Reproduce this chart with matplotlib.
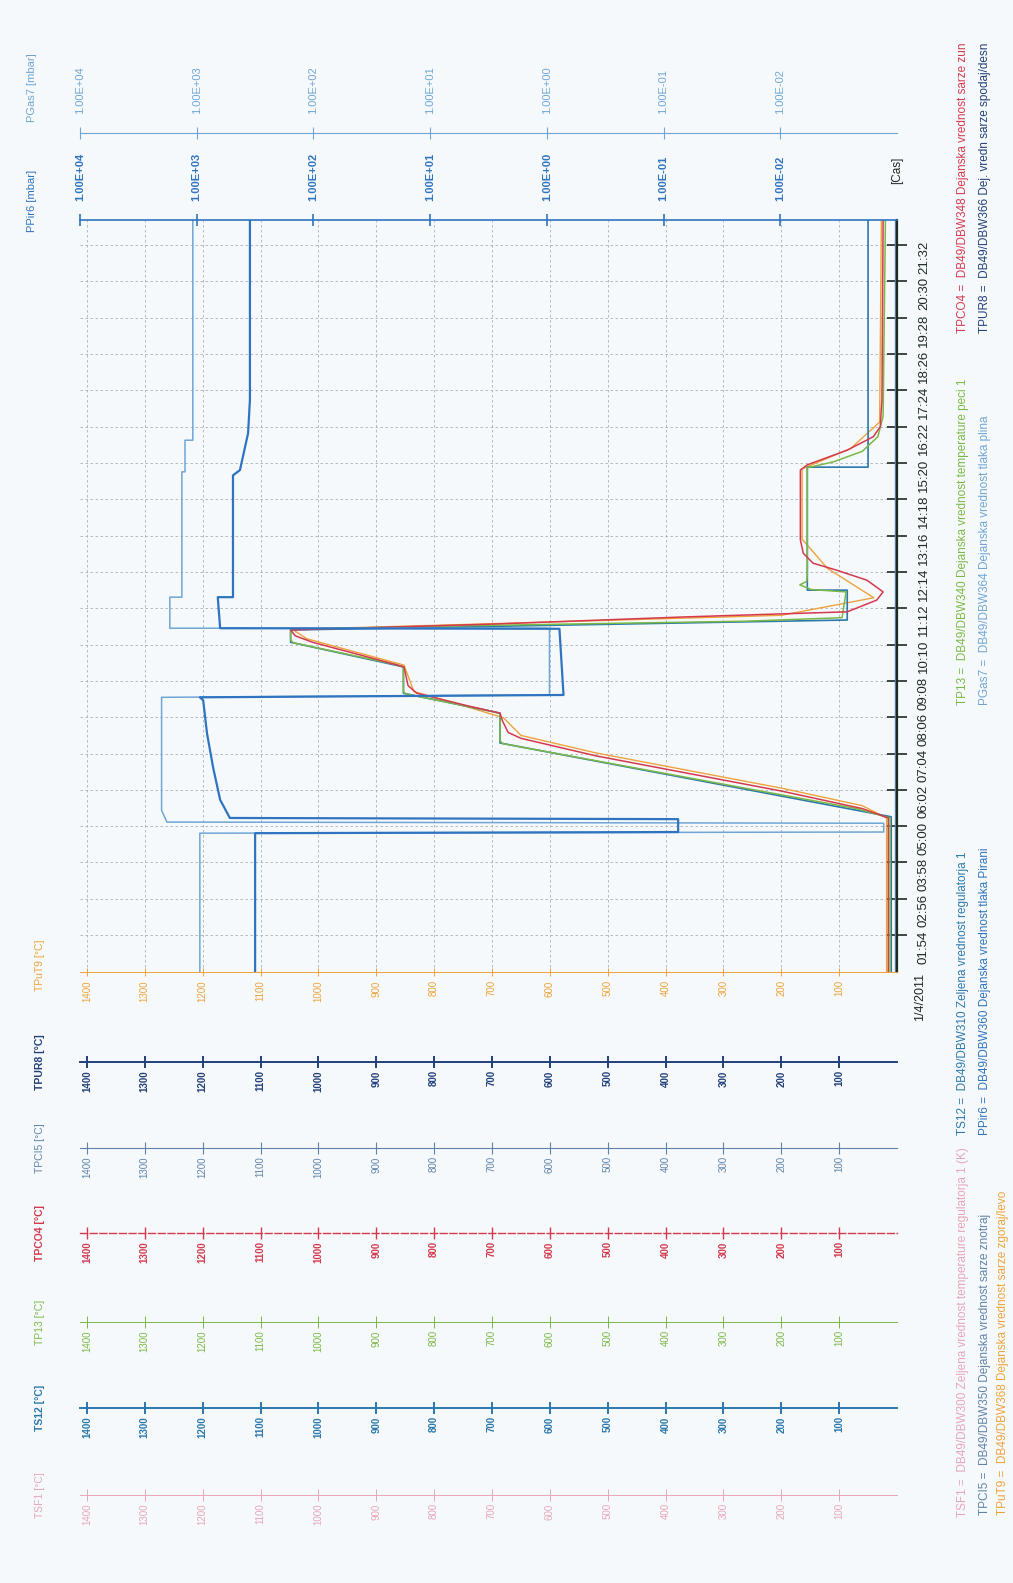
import matplotlib
matplotlib.use("Agg")
import matplotlib.pyplot as plt
from matplotlib.ticker import NullLocator
import numpy as np

plt.rcParams["font.family"] = ["Liberation Sans", "DejaVu Sans"]

# ---------------- data ----------------
time_ticks = ["01:54", "02:56", "03:58", "05:00", "06:02", "07:04", "08:06", "09:08",
              "10:10", "11:12", "12:14", "13:16", "14:18", "15:20", "16:22", "17:24",
              "18:26", "19:28", "20:30", "21:32"]
temp_ticks = [100, 200, 300, 400, 500, 600, 700, 800, 900, 1000, 1100, 1200, 1300, 1400]
pressure_ticks = [1e4, 1e3, 1e2, 1e1, 1e0, 1e-1, 1e-2]

ts12_time = ["00:51", "05:16", "07:22", "08:13", "08:47", "09:32", "10:14", "10:35",
             "10:52", "11:43", "11:43", "15:13", "15:13", "22:15"]
ts12_temp = [10, 10, 686, 686, 853, 853, 1048, 1048, 86, 86, 155, 155, 50, 50]

tp13_time = ["00:51", "05:14", "05:30", "07:21", "07:26", "08:12", "08:16", "08:46", "08:50",
             "09:31", "09:36", "10:13", "10:18", "10:36", "10:42", "10:50", "10:56", "11:40",
             "11:44", "11:52", "11:58", "12:10", "15:12", "15:22", "15:40", "16:05", "16:40",
             "22:15"]
tp13_temp = [12, 12, 70, 682, 686, 686, 700, 850, 853, 853, 866, 1043, 1048, 1048, 760, 260,
             95, 88, 148, 168, 156, 155, 155, 110, 60, 33, 24, 20]

tpco4_time = ["00:51", "05:14", "05:30", "06:00", "07:00", "07:30", "07:40", "08:00", "08:13",
              "08:25", "08:47", "09:00", "09:32", "09:45", "10:14", "10:25", "10:35", "10:45",
              "10:57", "11:06", "11:26", "11:40", "12:00", "12:17", "12:29", "12:46", "13:09",
              "15:08", "15:17", "15:42", "16:05", "16:22", "17:08", "22:15"]
tpco4_temp = [15, 15, 60, 200, 520, 650, 672, 682, 686, 740, 830, 845, 852, 900, 1010, 1040,
              1048, 700, 375, 86, 35, 24, 52, 104, 145, 162, 167, 167, 155, 86, 41, 29, 26, 24]

tput9_time = ["00:51", "05:14", "05:35", "06:05", "07:05", "07:35", "08:05", "08:20", "08:50",
              "09:35", "10:20", "10:36", "10:46", "11:00", "11:30", "12:20", "13:10", "15:10",
              "15:45", "16:30", "22:15"]
tput9_temp = [18, 18, 60, 200, 520, 650, 680, 730, 835, 852, 1020, 1045, 690, 200, 40, 120,
              164, 164, 80, 30, 27]

tpci5_time = ["00:51", "22:15"]
tpci5_temp = [4, 4]
tpur8_time = ["00:51", "22:15"]
tpur8_temp = [2, 2]
tsf1_time = ["00:51", "22:15"]
tsf1_temp = [0, 0]

ppir6_time = ["00:51", "04:48", "04:50", "05:12", "05:14", "05:45", "06:41", "07:39", "08:35",
              "08:40", "08:44", "10:37", "10:38", "11:31", "11:31", "14:59", "15:08", "16:11",
              "17:08", "22:15"]
ppir6_mbar = [316, 316, 0.075, 0.075, 520, 630, 725, 817, 880, 940, 0.72, 0.78, 630, 660, 489,
              489, 426, 363, 350, 350]

pgas7_time = ["00:51", "04:48", "04:50", "05:05", "05:07", "05:27", "08:40", "08:44", "10:38",
              "10:38", "11:31", "11:31", "15:05", "15:05", "15:59", "15:59", "22:15"]
pgas7_mbar = [940, 940, 1.3e-3, 1.3e-3, 1800, 2000, 2000, 0.95, 0.95, 1700, 1700, 1340, 1340,
              1260, 1260, 1080, 1080]


def to_minutes(labels):
    return np.array([int(s[:2]) * 60 + int(s[3:]) for s in labels], dtype=float)


# ---------------- colours ----------------
C_TSF1 = "#e8a6b8"
C_TS12 = "#2b78ad"
C_TP13 = "#7bb946"
C_TPCO4 = "#d43a4e"
C_TPCI5 = "#5f84ab"
C_TPUR8 = "#22407a"
C_TPUT9 = "#eea33a"
C_PPIR6 = "#2f74c0"
C_PGAS7 = "#6fa6d6"
C_TIME = "#1d2a22"

# ---------------- layout (pixels of the 1013x1583 page) ----------------
W, H = 1013, 1583
LEFT, RIGHT, TOP, BOTTOM = 80, 897, 220, 972
T_MAX = 1412
T_START, T_END = 51, 1335

fig = plt.figure(figsize=(W / 100, H / 100), dpi=100)
fig.patch.set_facecolor("#f6f9fb")


def fx(px):
    return px / W


def fy(py):
    return 1 - py / H


ax = fig.add_axes([fx(LEFT), fy(BOTTOM), (RIGHT - LEFT) / W, (BOTTOM - TOP) / H])
ax.set_facecolor("none")
plot_h = BOTTOM - TOP


def temp_axis(y_px, color, bold, lw, dashed=False):
    a = ax.twiny()
    a.set_xlim(T_MAX, 0)
    a.xaxis.set_ticks_position("bottom")
    a.spines["bottom"].set_position(("axes", -(y_px - BOTTOM) / plot_h))
    for s in ("top", "left", "right"):
        a.spines[s].set_visible(False)
    a.spines["bottom"].set_color(color)
    a.spines["bottom"].set_linewidth(lw)
    if dashed:
        a.spines["bottom"].set_linestyle((0, (5, 2)))
    a.set_xticks(temp_ticks)
    a.set_xticklabels([str(v) for v in temp_ticks], rotation=90,
                      fontweight="bold" if bold else "normal")
    a.tick_params(axis="x", colors=color, direction="inout", length=8, width=lw,
                  labelsize=7, pad=2)
    a.patch.set_visible(False)
    return a


def press_axis(offset, color, bold, lw):
    a = ax.twiny()
    a.set_xscale("log")
    a.set_xlim(1e4, 1e-3)
    a.xaxis.set_ticks_position("top")
    a.spines["top"].set_position(("axes", offset))
    for s in ("bottom", "left", "right"):
        a.spines[s].set_visible(False)
    a.spines["top"].set_color(color)
    a.spines["top"].set_linewidth(lw)
    a.set_xticks(pressure_ticks)
    a.xaxis.set_minor_locator(NullLocator())
    a.set_xticklabels([f"{v:.2E}" for v in pressure_ticks], rotation=90,
                      fontweight="bold" if bold else "normal")
    a.tick_params(axis="x", colors=color, direction="inout", length=9, width=lw,
                  labelsize=8, pad=9)
    a.patch.set_visible(False)
    return a


# temperature scales below the chart
temp_scales = [
    (1062, C_TPUR8, True, 1.4, False, "TPUR8 [°C]"),
    (1148, C_TPCI5, False, 0.8, False, "TPCI5 [°C]"),
    (1233, C_TPCO4, True, 1.0, True, "TPCO4 [°C]"),
    (1322, C_TP13, False, 0.7, False, "TP13 [°C]"),
    (1408, C_TS12, True, 1.4, False, "TS12 [°C]"),
    (1495, C_TSF1, False, 0.7, False, "TSF1 [°C]"),
]
for y_px, col, bold, lw, dashed, title in temp_scales:
    temp_axis(y_px, col, bold, lw, dashed)
    fig.text(fx(40), fy(y_px), title, rotation=90, color=col, fontsize=7.5,
             fontweight="bold" if bold else "normal", ha="center", va="center")

# pressure scales above the chart
axp = press_axis(1.0, C_PPIR6, True, 1.2)
axg = press_axis(1 + 87 / plot_h, C_PGAS7, False, 0.8)
fig.text(fx(32), fy(201), "PPir6 [mbar]", rotation=90, color=C_PPIR6, fontsize=8,
         ha="center", va="center")
fig.text(fx(32), fy(88), "PGas7 [mbar]", rotation=90, color=C_PGAS7, fontsize=8,
         ha="center", va="center")

# main axis: temperature (TPuT9 scale at bottom) vs time (right edge)
ax.set_xlim(T_MAX, 0)
ax.set_ylim(T_START, T_END)
ax.set_xticks(temp_ticks)
ax.set_xticklabels([str(v) for v in temp_ticks], rotation=90)
ax.xaxis.set_ticks_position("bottom")
ax.tick_params(axis="x", colors=C_TPUT9, direction="inout", length=6, width=0.7,
               labelsize=7, pad=3)
tick_min = to_minutes(time_ticks)
ax.set_yticks(tick_min)
ax.set_yticklabels(time_ticks, rotation=90)
ax.yaxis.set_ticks_position("right")
ax.tick_params(axis="y", colors=C_TIME, direction="inout", length=14, width=1.2,
               labelsize=9.5, pad=8)
ax.spines["left"].set_visible(False)
ax.spines["top"].set_visible(False)
ax.spines["bottom"].set_color(C_TPUT9)
ax.spines["bottom"].set_linewidth(0.7)
ax.spines["right"].set_color(C_TIME)
ax.spines["right"].set_linewidth(1.6)
ax.grid(True, color="#a9b0b8", linestyle=(0, (3, 3)), linewidth=0.6)
fig.text(fx(40), fy(965), "TPuT9 [°C]", rotation=90, color=C_TPUT9, fontsize=7.5,
         ha="center", va="center")

# curves
series_t = [
    (tsf1_time, tsf1_temp, C_TSF1, 1.0),
    (tpur8_time, tpur8_temp, C_TPUR8, 1.4),
    (tpci5_time, tpci5_temp, C_TPCI5, 1.0),
    (tput9_time, tput9_temp, C_TPUT9, 1.0),
    (ts12_time, ts12_temp, C_TS12, 1.2),
    (tp13_time, tp13_temp, C_TP13, 1.1),
    (tpco4_time, tpco4_temp, C_TPCO4, 1.1),
]
for times, temps, col, lw in series_t:
    ax.plot(temps, to_minutes(times), color=col, linewidth=lw)

axp.plot(pgas7_mbar, to_minutes(pgas7_time), color=C_PGAS7, linewidth=1.1)
axp.plot(ppir6_mbar, to_minutes(ppir6_time), color=C_PPIR6, linewidth=1.6)

# labels round the time axis
fig.text(fx(897), fy(170), "[Cas]", rotation=90, color=C_TIME, fontsize=8.5,
         ha="center", va="center")
fig.text(fx(920), fy(997), "1/4/2011", rotation=90, color=C_TIME, fontsize=9,
         ha="center", va="center")

# legend lines along the right margin (text starts at the given y and runs upward)
legend = [
    (963, 1517, C_TSF1, "TSF1 =  DB49/DBW300 Zeljena vrednost temperature regulatorja 1 (K)"),
    (963, 1135, C_TS12, "TS12 =  DB49/DBW310 Zeljena vrednost regulatorja 1"),
    (963, 705, C_TP13, "TP13 =  DB49/DBW340 Dejanska vrednost temperature peci 1"),
    (963, 333, C_TPCO4, "TPCO4 =  DB49/DBW348 Dejanska vrednost sarze zun"),
    (985, 1515, C_TPCI5, "TPCI5 =  DB49/DBW350 Dejanska vrednost sarze znotraj"),
    (985, 1135, C_PPIR6, "PPir6 =  DB49/DBW360 Dejanska vrednost tlaka Pirani"),
    (985, 705, C_PGAS7, "PGas7 =  DB49/DBW364 Dejanska vrednost tlaka plina"),
    (985, 333, C_TPUR8, "TPUR8 =  DB49/DBW366 Dej. vredn sarze spodaj/desn"),
    (1003, 1515, C_TPUT9, "TPuT9 =  DB49/DBW368 Dejanska vrednost sarze zgoraj/levo"),
]
for x_px, y_px, col, txt in legend:
    fig.text(fx(x_px), fy(y_px), txt, rotation=90, color=col, fontsize=8.5,
             ha="left", va="center", rotation_mode="anchor")

fig.savefig("out.png", dpi=100, facecolor=fig.get_facecolor())
